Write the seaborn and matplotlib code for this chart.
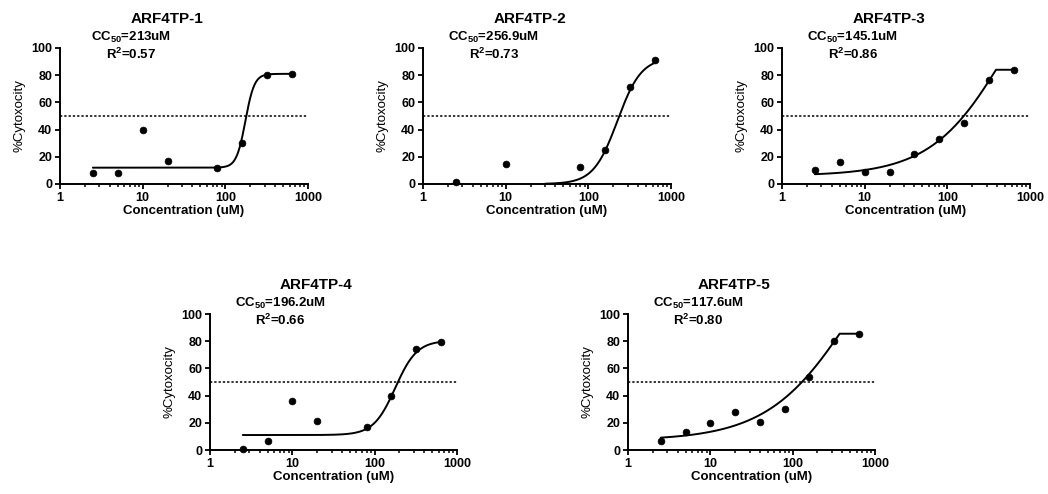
import numpy as np
import pandas as pd
import matplotlib
matplotlib.use("Agg")
import matplotlib.pyplot as plt
import seaborn as sns
from matplotlib.ticker import LogLocator, NullFormatter

# ---------------- data ----------------
titles = ["ARF4TP-1", "ARF4TP-2", "ARF4TP-3", "ARF4TP-4", "ARF4TP-5"]
cc50_values = ["213", "256.9", "145.1", "196.2", "117.6"]
r2_values = ["0.57", "0.73", "0.86", "0.66", "0.80"]

p1_x = [2.5, 5, 10, 20, 80, 160, 320, 640]
p1_y = [8, 8, 40, 17, 12, 30.5, 80, 81]
p2_x = [2.5, 10, 80, 160, 320, 640]
p2_y = [1.7, 15, 12.6, 25, 71, 91.4]
p3_x = [2.5, 5, 10, 20, 40, 80, 160, 320, 640]
p3_y = [10.1, 16.5, 9.1, 8.6, 21.7, 33.3, 45, 76.6, 84]
p4_x = [2.5, 5, 10, 20, 80, 160, 320, 640]
p4_y = [0.7, 6.6, 36.3, 21.3, 17.2, 40, 74.5, 79.4]
p5_x = [2.5, 5, 10, 20, 40, 80, 160, 320, 640]
p5_y = [6.4, 13.5, 20, 28, 20.3, 30, 53.4, 80, 85]

# fitted 4-parameter logistic curves (bottom, top, midpoint, hill, plateau cap, x range)
fit_bottom = [12, 0, 6, 11, 7]
fit_top = [81, 93, 200, 80.5, 200]
fit_mid = [175, 225, 591, 178, 584]
fit_hill = [8, 3.0, 0.93, 3.3, 0.83]
fit_cap = [100, 100, 84, 100, 85.5]
fit_xmin = [2.5, 30, 2.5, 2.5, 2.5]
fit_xmax = [640, 640, 640, 640, 640]

xs = [p1_x, p2_x, p3_x, p4_x, p5_x]
ys = [p1_y, p2_y, p3_y, p4_y, p5_y]

# ---------------- style ----------------
sns.set_style("ticks")
plt.rcParams["font.family"] = ["Liberation Sans", "DejaVu Sans"]
plt.rcParams["mathtext.fontset"] = "custom"
plt.rcParams["mathtext.rm"] = "Liberation Sans:bold"
plt.rcParams["mathtext.it"] = "Liberation Sans:bold"
plt.rcParams["mathtext.bf"] = "Liberation Sans:bold"
plt.rcParams["mathtext.default"] = "regular"
plt.rcParams["text.color"] = "black"
plt.rcParams["axes.labelcolor"] = "black"
plt.rcParams["axes.edgecolor"] = "black"
plt.rcParams["xtick.color"] = "black"
plt.rcParams["ytick.color"] = "black"

W, H = 1048, 494
fig = plt.figure(figsize=(W / 100, H / 100), dpi=100)

# axes rectangles in pixels: left, top, right, bottom
rects = [(60, 48, 308, 184), (423, 48, 671, 184), (782, 48, 1030, 184),
         (210, 314, 457, 450), (628, 314, 875, 450)]

for i in range(5):
    l, t, r, b = rects[i]
    ax = fig.add_axes([l / W, 1 - b / H, (r - l) / W, (b - t) / H])
    ax.set_facecolor("white")

    cx = np.logspace(np.log10(fit_xmin[i]), np.log10(fit_xmax[i]), 400)
    u = (cx / fit_mid[i]) ** fit_hill[i]
    cy = fit_bottom[i] + (fit_top[i] - fit_bottom[i]) * u / (1 + u)
    cy = np.minimum(cy, fit_cap[i])
    sns.lineplot(x=cx, y=cy, ax=ax, color="black", lw=1.4, sort=False)

    ax.axhline(50, color="black", lw=1.1, ls=(0, (1.5, 1.3)))

    sns.scatterplot(x=xs[i], y=ys[i], ax=ax, color="black", s=24,
                    edgecolor="black", linewidth=0.5, clip_on=False, zorder=5)

    ax.set_xscale("log")
    ax.set_xlim(1, 1000)
    ax.set_ylim(0, 100)
    ax.set_xticks([1, 10, 100, 1000])
    ax.set_xticklabels(["1", "10", "100", "1000"])
    ax.xaxis.set_minor_locator(LogLocator(base=10, subs=np.arange(2, 10)))
    ax.xaxis.set_minor_formatter(NullFormatter())
    ax.set_yticks([0, 20, 40, 60, 80, 100])
    ax.set_yticklabels(["0", "20", "40", "60", "80", "100"])

    sns.despine(ax=ax)
    for s in ["left", "bottom"]:
        ax.spines[s].set_linewidth(1.4)
    ax.tick_params(axis="both", which="major", direction="out", length=3.5,
                   width=1.3, labelsize=9, pad=2, colors="black")
    ax.tick_params(axis="x", which="minor", direction="out", length=2,
                   width=1.1, colors="black")
    for lab in ax.get_xticklabels() + ax.get_yticklabels():
        lab.set_fontweight("bold")

    ax.set_xlabel("Concentration (uM)", fontsize=9.5, fontweight="bold", labelpad=1)
    ax.set_ylabel("%Cytoxocity", fontsize=9.5, labelpad=4)

    ax.text(0.43, 1.215, titles[i], transform=ax.transAxes, ha="center",
            va="center", fontsize=11, fontweight="bold")
    ax.text(0.285, 1.075, "CC$_{50}$=" + cc50_values[i] + "uM",
            transform=ax.transAxes, ha="center", va="center",
            fontsize=9.5, fontweight="bold")
    ax.text(0.285, 0.955, "R$^{2}$=" + r2_values[i],
            transform=ax.transAxes, ha="center", va="center",
            fontsize=9.5, fontweight="bold")

fig.savefig("out.png", dpi=100, facecolor="white")
